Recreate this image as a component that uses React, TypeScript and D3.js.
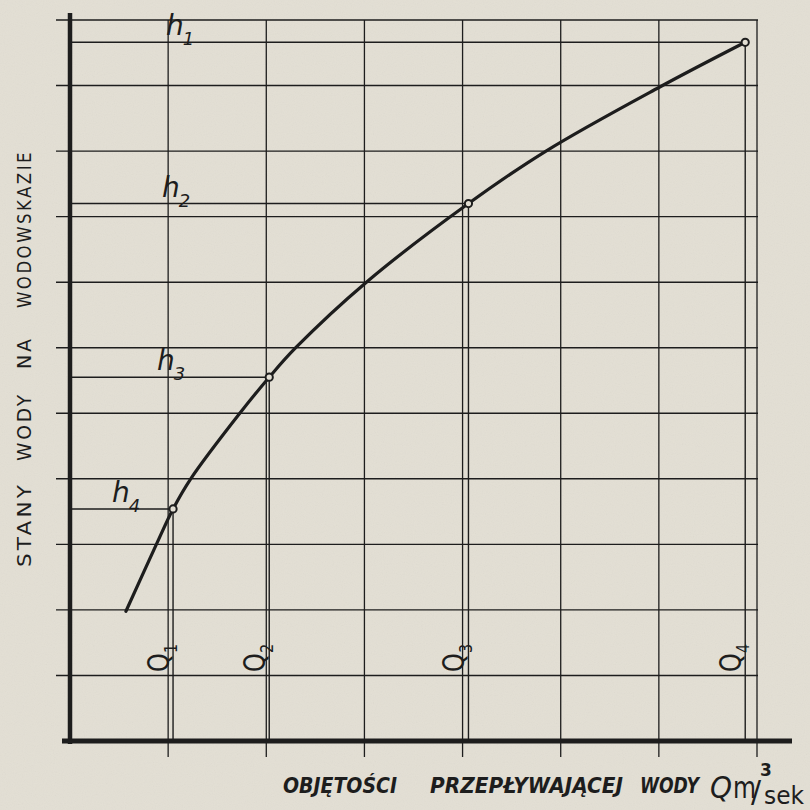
import React from "react";
import * as d3 from "d3";

// ---- data (grid units) ----
const gridXTicks = [1, 2, 3, 4, 5, 6, 7];
const gridYTicks = [1, 2, 3, 4, 5, 6, 7, 8, 9, 10, 11];
const qNames = ["1", "2", "3", "4"];
const hNames = ["4", "3", "2", "1"];
const qValues = [1.05, 2.03, 4.06, 6.88];
const hValues = [3.54, 5.55, 8.2, 10.66];
const curveQ = [0.57, 0.88, 1.05, 1.23, 1.73, 2.03, 2.3, 3.02, 4.06, 4.85, 6.0, 6.88];
const curveH = [1.98, 3.0, 3.54, 4.0, 5.0, 5.55, 6.0, 7.0, 8.2, 9.0, 9.97, 10.66];
const yTitleWords = ["STANY", "WODY", "NA", "WODOWSKAZIE"];
const xTitleWords = ["OBJĘTOŚCI", "PRZEPŁYWAJĄCEJ", "WODY"];
const unitQ = "Q";
const unitM = "m";
const unitExp = "3";
const unitSlash = "/";
const unitSek = "sek";

// ---- layout ----
const W = 810;
const H = 810;
const ink = "#1d1d1d";
const paper = "#e3dfd4";

const x = d3.scaleLinear().domain([0, 7]).range([70, 757]);
const y = d3.scaleLinear().domain([0, 11]).range([741, 20]);

const hLabelX = [112, 157, 162, 166];
const yTitleSpans: [number, number][] = [
  [567, 482],
  [461, 392],
  [369, 336],
  [308, 150],
];
const xTitleSpans: [number, number][] = [
  [283, 397],
  [430, 623],
  [640, 699],
];

export default function App() {
  const line = d3
    .line<number>()
    .x((_, i) => x(curveQ[i]))
    .y((d) => y(d))
    .curve(d3.curveCatmullRom.alpha(0.5));
  const pathD = line(curveH) || "";
  const font = "'DejaVu Sans', sans-serif";

  return (
    <svg
      width={W}
      height={H}
      viewBox={`0 0 ${W} ${H}`}
      style={{ position: "absolute", left: 0, top: 0, display: "block" }}
    >
      <defs>
        <filter id="grain" x="0" y="0" width="100%" height="100%">
          <feTurbulence type="fractalNoise" baseFrequency="0.9" numOctaves="2" seed="3" />
          <feColorMatrix type="saturate" values="0" />
          <feComponentTransfer>
            <feFuncA type="linear" slope="0.08" />
          </feComponentTransfer>
        </filter>
      </defs>
      <rect x={0} y={0} width={W} height={H} fill={paper} />
      <rect x={0} y={0} width={W} height={H} filter="url(#grain)" />

      {/* horizontal grid lines with left ticks */}
      {gridYTicks.map((t) => (
        <line
          key={"gy" + t}
          x1={56}
          x2={x(7) + 1}
          y1={y(t)}
          y2={y(t)}
          stroke={ink}
          strokeWidth={1.4}
        />
      ))}
      {/* vertical grid lines with bottom ticks */}
      {gridXTicks.map((t) => (
        <line
          key={"gx" + t}
          x1={x(t)}
          x2={x(t)}
          y1={y(11)}
          y2={757}
          stroke={ink}
          strokeWidth={1.3}
        />
      ))}

      {/* h and Q reference lines */}
      {qValues.map((q, i) => (
        <g key={"ref" + i}>
          <line x1={x(0)} x2={x(q)} y1={y(hValues[i])} y2={y(hValues[i])} stroke={ink} strokeWidth={1.5} />
          <line x1={x(q)} x2={x(q)} y1={y(hValues[i])} y2={y(0)} stroke={ink} strokeWidth={1.4} />
        </g>
      ))}

      {/* axes */}
      <line x1={70} x2={70} y1={13} y2={744} stroke={ink} strokeWidth={4.5} />
      <line x1={62} x2={792} y1={741} y2={741} stroke={ink} strokeWidth={5} />

      {/* curve */}
      <path d={pathD} fill="none" stroke={ink} strokeWidth={3.2} strokeLinecap="round" />

      {/* points */}
      {qValues.map((q, i) => (
        <circle key={"pt" + i} cx={x(q)} cy={y(hValues[i])} r={3.6} fill={paper} stroke={ink} strokeWidth={2} />
      ))}

      {/* h labels */}
      {hValues.map((h, i) => (
        <text
          key={"hl" + i}
          x={hLabelX[i]}
          y={y(h) - 7}
          fontFamily={font}
          fontSize={28}
          fontStyle="italic"
          fill={ink}
        >
          h
          <tspan fontSize={18} dy={10} dx={-1}>
            {hNames[i]}
          </tspan>
        </text>
      ))}

      {/* Q labels (rotated) */}
      {qValues.map((q, i) => (
        <text
          key={"ql" + i}
          transform={`translate(${x(q) - 4},672) rotate(-90) scale(0.8,1)`}
          fontFamily={font}
          fontSize={30}
          fill={ink}
        >
          Q
          <tspan fontSize={18} dy={8}>
            {qNames[i]}
          </tspan>
        </text>
      ))}

      {/* y title */}
      {yTitleWords.map((w, i) => (
        <text
          key={"yt" + i}
          transform={`translate(31,${yTitleSpans[i][0]}) rotate(-90)`}
          fontFamily={font}
          fontSize={20}
          letterSpacing={3}
          fill={ink}
          textLength={yTitleSpans[i][0] - yTitleSpans[i][1]}
          lengthAdjust="spacingAndGlyphs"
        >
          {w}
        </text>
      ))}

      {/* x title */}
      {xTitleWords.map((w, i) => (
        <text
          key={"xt" + i}
          x={xTitleSpans[i][0]}
          y={793}
          fontFamily={font}
          fontSize={21}
          fontWeight="bold"
          fontStyle="italic"
          fill={ink}
          textLength={xTitleSpans[i][1] - xTitleSpans[i][0]}
          lengthAdjust="spacingAndGlyphs"
        >
          {w}
        </text>
      ))}
      <text fontFamily={font} fill={ink}>
        <tspan x={710} y={798} fontSize={31} fontStyle="italic" textLength={22} lengthAdjust="spacingAndGlyphs">
          {unitQ}
        </tspan>
        <tspan x={733} y={798} fontSize={31} textLength={23} lengthAdjust="spacingAndGlyphs">
          {unitM}
        </tspan>
        <tspan x={760} y={776} fontSize={17} fontWeight="bold">
          {unitExp}
        </tspan>
        <tspan x={751} y={802} fontSize={30}>
          {unitSlash}
        </tspan>
        <tspan x={764} y={804} fontSize={24} textLength={40} lengthAdjust="spacingAndGlyphs">
          {unitSek}
        </tspan>
      </text>
    </svg>
  );
}
